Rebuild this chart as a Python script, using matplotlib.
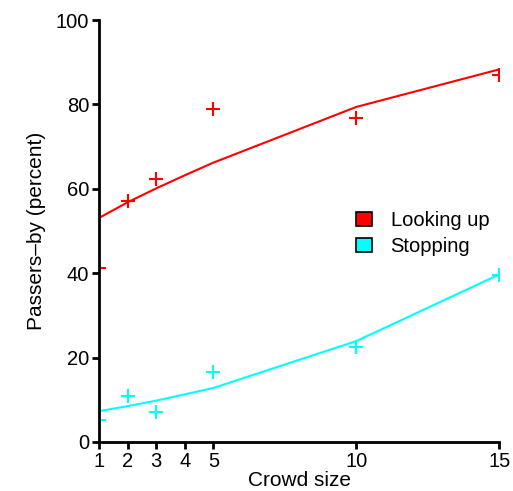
import numpy as np
import matplotlib.pyplot as plt
from matplotlib.patches import Patch

plt.rcParams['font.family'] = ['Liberation Sans', 'DejaVu Sans']

crowd_size = [1, 2, 3, 5, 10, 15]
looking_obs = [41.3, 57.2, 62.4, 78.8, 76.7, 87.0]
stopping_obs = [5.1, 10.9, 7.2, 16.6, 22.5, 39.5]

fit_x = [1, 2, 3, 4, 5, 10, 15]
looking_fit = [53.1, 56.8, 60.1, 63.2, 66.2, 79.4, 88.3]
stopping_fit = [7.3, 8.5, 9.8, 11.3, 12.8, 23.9, 39.7]

x_ticks = [1, 2, 3, 4, 5, 10, 15]
y_ticks = [0, 20, 40, 60, 80, 100]

red = '#ff0000'
cyan = '#00ffff'

fig = plt.figure(figsize=(5.13, 4.91), dpi=100)
ax = fig.add_axes([0.193, 0.0998, 0.78, 0.8594])

ax.plot(fit_x, looking_fit, color=red, lw=1.5)
ax.plot(fit_x, stopping_fit, color=cyan, lw=1.5)
ax.plot(crowd_size, looking_obs, '+', color=red, ms=10, mew=1.5)
ax.plot(crowd_size, stopping_obs, '+', color=cyan, ms=10, mew=1.5)

ax.set_xlim(1, 15)
ax.set_ylim(0, 100)
ax.set_xticks(x_ticks)
ax.set_yticks(y_ticks)
ax.tick_params(labelsize=14.5, width=2, length=5, direction='out', pad=2)
for s in ['top', 'right']:
    ax.spines[s].set_visible(False)
for s in ['left', 'bottom']:
    ax.spines[s].set_linewidth(2)

ax.set_xlabel('Crowd size', fontsize=15, labelpad=0)
ax.set_ylabel('Passers\u2013by (percent)', fontsize=15, labelpad=7)

handles = [Patch(facecolor=red, edgecolor='black', lw=1.2, label='Looking up'),
           Patch(facecolor=cyan, edgecolor='black', lw=1.2, label='Stopping')]
ax.legend(handles=handles, frameon=False, fontsize=14.5, loc='center left',
          bbox_to_anchor=(0.618, 0.494), handlelength=0.8, handleheight=0.75,
          handletextpad=0.9, labelspacing=0.35, borderpad=0)

fig.savefig('out.png', dpi=100)
